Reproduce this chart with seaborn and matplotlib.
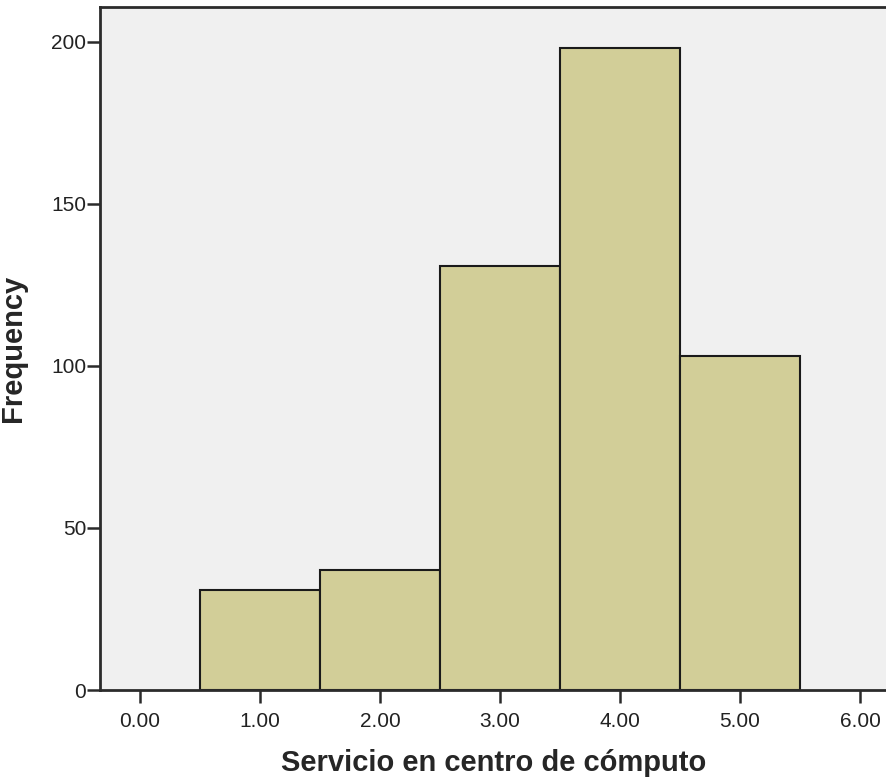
import matplotlib
matplotlib.use("Agg")
import matplotlib.pyplot as plt
import seaborn as sns

# Data
scores = [1, 2, 3, 4, 5]
counts = [31, 37, 131, 198, 103]
x_ticks = [0, 1, 2, 3, 4, 5, 6]
x_tick_labels = ["0.00", "1.00", "2.00", "3.00", "4.00", "5.00", "6.00"]
y_ticks = [0, 50, 100, 150, 200]

sns.set_style("ticks")
plt.rcParams["font.family"] = ["Liberation Sans", "DejaVu Sans"]

fig = plt.figure(figsize=(8.87, 7.84), dpi=100)
ax = fig.add_axes([100 / 887, 1 - 690 / 784, 1 - 100 / 887, (690 - 7) / 784])
ax.set_facecolor("#F0F0F0")

sns.histplot(x=scores, weights=counts, discrete=True, ax=ax,
             color="#D2CE98", alpha=1, edgecolor="#1a1a1a", linewidth=1.5)

ax.set_xlim(-0.333, 6.225)
ax.set_ylim(0, 210.8)
ax.set_xticks(x_ticks)
ax.set_xticklabels(x_tick_labels)
ax.set_yticks(y_ticks)
ax.tick_params(axis="both", direction="out", length=9.5, width=1.8, color="#2b2b2b",
               labelsize=15, labelcolor="#222222")
ax.tick_params(axis="x", pad=6)
ax.tick_params(axis="y", pad=0.5)

for side in ["left", "bottom", "top"]:
    ax.spines[side].set_linewidth(2)
    ax.spines[side].set_color("#2b2b2b")
ax.spines["right"].set_visible(False)

ax.set_xlabel("Servicio en centro de cómputo", fontsize=21, fontweight="bold")
ax.xaxis.set_label_coords(0.5, -0.087)
ax.set_ylabel("Frequency", fontsize=21, fontweight="bold")
ax.yaxis.set_label_coords(-0.093, 0.5)

fig.savefig("out.png", dpi=100)
